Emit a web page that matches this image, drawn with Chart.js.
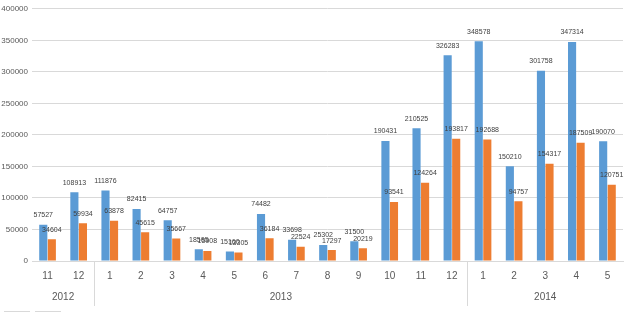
<!DOCTYPE html>
<html>
<head>
<meta charset="utf-8">
<script src="https://cdn.jsdelivr.net/npm/chart.js@4/dist/chart.umd.min.js"></script>
<style>
  html, body { margin: 0; padding: 0; background: #fff; }
  #wrap { width: 630px; height: 322px; }
</style>
</head>
<body>
<div id="wrap"><canvas id="chart" width="630" height="322"></canvas></div>
<script>
const months = ['11', '12', '1', '2', '3', '4', '5', '6', '7', '8', '9', '10', '11', '12', '1', '2', '3', '4', '5'];
const years = [
  { label: '2012', from: 0, to: 1 },
  { label: '2013', from: 2, to: 13 },
  { label: '2014', from: 14, to: 18 }
];
const seriesA = [57527, 108913, 111876, 82415, 64757, 18505, 15160, 74482, 33698, 25302, 31500, 190431, 210525, 326283, 348578, 150210, 301758, 347314, 190070];
const seriesB = [34604, 59934, 63878, 45615, 35667, 15908, 13305, 36184, 22524, 17297, 20219, 93541, 124264, 193817, 192688, 94757, 154317, 187509, 120751];
const yTicks = [0, 50000, 100000, 150000, 200000, 250000, 300000, 350000, 400000];

const textColor = '#595959';
const gridColor = '#d9d9d9';
const fontFam = '"Liberation Sans", sans-serif';

// values above bars
const barLabels = {
  id: 'barLabels',
  afterDatasetsDraw(chart) {
    const ctx = chart.ctx;
    ctx.save();
    ctx.font = '7px ' + fontFam;
    ctx.fillStyle = '#404040';
    ctx.textAlign = 'center';
    ctx.textBaseline = 'bottom';
    chart.data.datasets.forEach((ds, i) => {
      chart.getDatasetMeta(i).data.forEach((bar, j) => {
        ctx.fillText(String(ds.data[j]), bar.x, bar.y - 6);
      });
    });
    ctx.restore();
  }
};

// second row of the x axis: years and separators, plus the faint legend stubs
const yearAxis = {
  id: 'yearAxis',
  afterDraw(chart) {
    const ctx = chart.ctx;
    const x = chart.scales.x;
    const bottom = chart.chartArea.bottom;
    const half = (x.getPixelForValue(1) - x.getPixelForValue(0)) / 2;
    ctx.save();
    ctx.strokeStyle = gridColor;
    ctx.lineWidth = 1;
    years.forEach((y, k) => {
      if (k > 0) {
        const sx = Math.round(x.getPixelForValue(y.from) - half) + 0.5;
        ctx.beginPath();
        ctx.moveTo(sx, bottom);
        ctx.lineTo(sx, bottom + 45);
        ctx.stroke();
      }
    });
    ctx.beginPath();
    ctx.moveTo(4, 311.5); ctx.lineTo(30, 311.5);
    ctx.moveTo(35, 311.5); ctx.lineTo(61, 311.5);
    ctx.stroke();
    ctx.font = '10px ' + fontFam;
    ctx.fillStyle = textColor;
    ctx.textAlign = 'center';
    ctx.textBaseline = 'middle';
    years.forEach(y => {
      const cx = (x.getPixelForValue(y.from) + x.getPixelForValue(y.to)) / 2;
      ctx.fillText(y.label, cx, bottom + 36);
    });
    ctx.restore();
  }
};

new Chart(document.getElementById('chart'), {
  type: 'bar',
  data: {
    labels: months,
    datasets: [
      { label: 'A', data: seriesA, backgroundColor: '#5b9bd5', barPercentage: 0.95, categoryPercentage: 0.55 },
      { label: 'B', data: seriesB, backgroundColor: '#ed7d31', barPercentage: 0.95, categoryPercentage: 0.55 }
    ]
  },
  options: {
    responsive: false,
    animation: false,
    layout: { padding: { top: 3, right: 7, left: 0, bottom: 0 } },
    plugins: {
      legend: { display: false },
      tooltip: { enabled: false }
    },
    scales: {
      x: {
        grid: { display: false, drawTicks: false },
        border: { display: true, color: gridColor },
        ticks: {
          color: textColor,
          padding: 9,
          maxRotation: 0,
          autoSkip: false,
          font: { family: fontFam, size: 10 }
        },
        afterFit: s => { s.height = 61; }
      },
      y: {
        min: 0,
        max: 400000,
        afterBuildTicks: s => { s.ticks = yTicks.map(v => ({ value: v })); },
        grid: { color: gridColor, drawTicks: false },
        border: { display: false },
        ticks: {
          color: textColor,
          padding: 4,
          font: { family: fontFam, size: 8 },
          callback: v => String(v)
        },
        afterFit: s => { s.width = 32; }
      }
    }
  },
  plugins: [barLabels, yearAxis]
});
</script>
</body>
</html>
